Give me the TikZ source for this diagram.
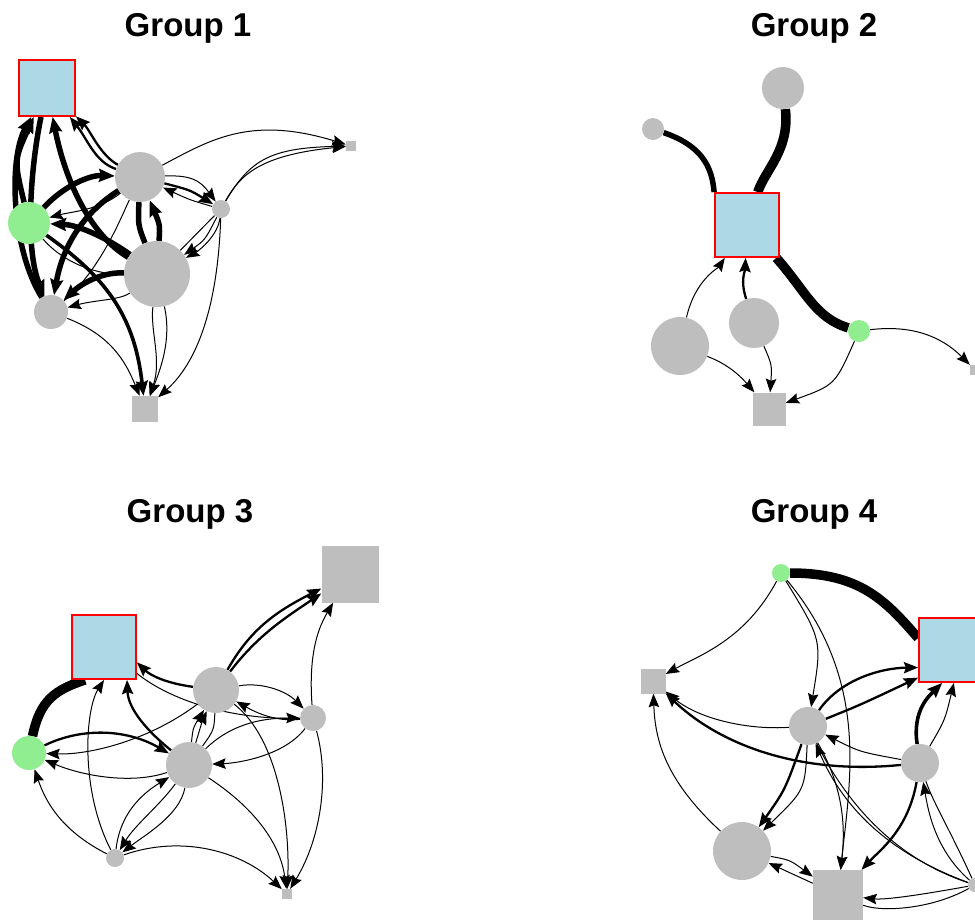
\documentclass[tikz,border=0pt]{standalone}
\usepackage{fontspec}
\setmainfont{Liberation Sans}
\usetikzlibrary{arrows.meta}
\definecolor{vgrey}{HTML}{BEBEBE}
\definecolor{vblue}{HTML}{ADD8E6}
\definecolor{vgreen}{HTML}{90EE90}
\pgfdeclarelayer{edges}
\pgfsetlayers{edges,main}
\tikzset{
  gc/.style={circle,fill=vgrey,inner sep=0pt,minimum size=#1},
  gn/.style={circle,fill=vgreen,inner sep=0pt,minimum size=#1},
  gs/.style={rectangle,fill=vgrey,inner sep=0pt,minimum size=#1},
  bs/.style={rectangle,fill=vblue,draw=red,line width=1.8pt,inner sep=0pt,minimum size=#1},
  ttl/.style={font=\bfseries\fontsize{33}{36}\selectfont,anchor=base,inner sep=0pt},
  w1/.style={draw=black,line width=1pt},
  w2/.style={draw=black,line width=2.3pt},
  w3/.style={draw=black,line width=3.6pt},
  w4/.style={draw=black,line width=5.5pt},
  w5/.style={draw=black,line width=9.5pt},
  ar/.style={-{Stealth[length=13pt 0.5,width=10pt 0.5,inset=2pt]}},
}
\begin{document}
\begin{tikzpicture}[x=1pt,y=-1pt]
\useasboundingbox (0,0) rectangle (975,919);
% titles
\node[ttl] (t1) at (188,36) {Group 1};
\node[ttl] (t2) at (814,36) {Group 2};
\node[ttl] (t3) at (190,522) {Group 3};
\node[ttl] (t4) at (814,522) {Group 4};
% ---------------- panel 1 nodes
\node[bs=56pt] (A1) at (47,88) {};
\node[gn=42pt] (G1) at (29,223) {};
\node[gc=50pt] (B1) at (140,177) {};
\node[gc=66pt] (C1) at (157,274) {};
\node[gc=34pt] (D1) at (51,312) {};
\node[gc=18pt] (E1) at (221,209) {};
\node[gs=10pt] (F1) at (351,146) {};
\node[gs=26pt] (H1) at (145,409) {};
% ---------------- panel 2 nodes
\node[bs=64pt] (A2) at (747,225) {};
\node[gc=42pt] (T2) at (783,88) {};
\node[gc=22pt] (L2) at (653,129) {};
\node[gc=58pt] (O2) at (680,346) {};
\node[gc=50pt] (M2) at (754,323) {};
\node[gn=22pt] (G2) at (859,331) {};
\node[gs=33pt] (W2) at (769,409) {};
\node[gs=10pt] (V2) at (975,370) {};
% ---------------- panel 3 nodes
\node[bs=64pt] (A3) at (104,647) {};
\node[gs=57pt] (K3) at (350,574) {};
\node[gc=46pt] (P3) at (216,690) {};
\node[gc=46pt] (Q3) at (189,765) {};
\node[gc=26pt] (R3) at (313,718) {};
\node[gn=34pt] (G3) at (29,753) {};
\node[gc=18pt] (S3) at (115,858) {};
\node[gs=10pt] (T3) at (287,894) {};
% ---------------- panel 4 nodes
\node[gn=18pt] (G4) at (781,573) {};
\node[bs=64pt] (A4) at (951,650) {};
\node[gs=25pt] (L4) at (653,681) {};
\node[gc=38pt] (M4) at (808,726) {};
\node[gc=38pt] (N4) at (920,763) {};
\node[gc=58pt] (O4) at (742,851) {};
\node[gs=50pt] (W4) at (838,895) {};
\node[gc=14pt] (V4) at (975,885) {};

\begin{pgfonlayer}{edges}
% ---------------- panel 1 edges
\draw[w4,ar] (G1) .. controls (14,160) .. (A1);
\draw[w4,ar] (D1) .. controls (12,250) and (8,160) .. (A1);
\draw[w4,ar] (A1) .. controls (30,170) and (25,250) .. (D1);
\draw[w4,ar] (C1) .. controls (90,235) and (65,180) .. (A1);
\draw[w2,ar] (B1) .. controls (95,162) and (88,140) .. (A1);
\draw[w2,ar] (B1) .. controls (100,155) and (90,130) .. (A1);
\draw[w4,ar] (G1) .. controls (65,185) and (90,175) .. (B1);
\draw[w1,ar] (B1) .. controls (100,210) and (70,212) .. (G1);
\draw[w4,ar] (C1) .. controls (110,240) and (80,225) .. (G1);
\draw[w4,ar] (B1) .. controls (80,215) and (62,250) .. (D1);
\draw[w4,ar] (C1) .. controls (100,272) and (80,285) .. (D1);
\draw[w1,ar] (C1) .. controls (120,300) and (95,300) .. (D1);
\draw[w4,ar] (C1) .. controls (160,225) .. (B1);
\draw[w4] (B1) .. controls (138,225) .. (C1);
\draw[w2,ar] (B1) .. controls (190,190) .. (E1);
\draw[w1,ar] (E1) .. controls (190,200) .. (B1);
\draw[w1,ar] (B1) .. controls (190,175) and (200,180) .. (E1);
\draw[w1,ar] (B1) .. controls (210,140) and (250,115) .. (F1);
\draw[w1,ar] (E1) .. controls (250,160) and (270,148) .. (F1);
\draw[w1,ar] (E1) .. controls (240,175) and (260,155) .. (F1);
\draw[w1,ar] (E1) .. controls (205,240) .. (C1);
\draw[w1,ar] (E1) .. controls (218,235) and (200,250) .. (C1);
\draw[w1] (C1) -- (E1);
\draw[w1,ar] (E1) .. controls (218,300) and (200,360) .. (H1);
\draw[w1,ar] (C1) .. controls (172,340) and (160,370) .. (H1);
\draw[w1,ar] (C1) .. controls (150,330) and (162,360) .. (H1);
\draw[w1,ar] (D1) .. controls (110,335) and (125,360) .. (H1);
\draw[w3,ar] (G1) .. controls (110,280) and (135,320) .. (H1);
\draw[w1] (G1) .. controls (70,270) and (110,275) .. (C1);
\draw[w1] (D1) .. controls (100,270) and (120,220) .. (B1);
% ---------------- panel 2 edges
\draw[w4] (L2) .. controls (700,145) and (712,165) .. (A2.north west);
\draw[w5] (T2) .. controls (790,150) and (765,170) .. (A2);
\draw[w5] (A2) .. controls (805,290) and (815,318) .. (G2);
\draw[w1,ar] (O2) .. controls (695,280) and (718,268) .. (A2);
\draw[w2,ar] (M2) .. controls (740,280) and (745,272) .. (A2);
\draw[w1,ar] (O2) .. controls (730,365) and (742,378) .. (W2);
\draw[w1,ar] (M2) .. controls (772,365) .. (W2);
\draw[w1,ar] (G2) .. controls (835,385) .. (W2);
\draw[w1,ar] (G2) .. controls (910,325) and (940,335) .. (V2);
% ---------------- panel 3 edges
\draw[w5] (G3) .. controls (40,700) and (55,690) .. (A3.240);
\draw[w2,ar] (P3) .. controls (165,683) and (150,675) .. (A3.-25);
\draw[w2,ar] (Q3) .. controls (140,725) and (128,705) .. (A3.-55);
\draw[w1,ar] (S3) .. controls (80,790) and (85,710) .. (A3.south);
\draw[w1] (A3) .. controls (170,700) and (230,720) .. (R3);
\draw[w2,ar] (G3) .. controls (80,728) and (125,728) .. (Q3);
\draw[w1,ar] (P3) .. controls (150,740) and (90,755) .. (G3);
\draw[w1,ar] (Q3) .. controls (130,785) and (80,775) .. (G3);
\draw[w1,ar] (S3) .. controls (60,830) and (45,800) .. (G3);
\draw[w1,ar] (Q3) .. controls (193,728) .. (P3);
\draw[w1,ar] (Q3) .. controls (202,722) .. (P3);
\draw[w1] (P3) .. controls (214,730) .. (Q3);
\draw[w2,ar] (P3) .. controls (250,630) and (275,612) .. (K3);
\draw[w2,ar] (P3) .. controls (258,635) and (285,618) .. (K3);
\draw[w1,ar] (R3) .. controls (308,650) and (320,625) .. (K3);
\draw[w1,ar] (P3) .. controls (260,682) and (285,690) .. (R3);
\draw[w1,ar] (R3) .. controls (275,722) and (255,712) .. (P3);
\draw[w1,ar] (Q3) .. controls (230,725) and (260,718) .. (R3);
\draw[w1,ar] (R3) .. controls (285,755) and (240,763) .. (Q3);
\draw[w1,ar] (Q3) .. controls (160,805) and (135,825) .. (S3);
\draw[w1,ar] (Q3) .. controls (180,815) and (145,835) .. (S3);
\draw[w1,ar] (S3) .. controls (120,815) and (140,795) .. (Q3);
\draw[w1,ar] (S3) .. controls (180,835) and (240,850) .. (T3);
\draw[w1,ar] (Q3) .. controls (250,805) and (280,840) .. (T3);
\draw[w1,ar] (P3) .. controls (280,740) and (290,830) .. (T3);
\draw[w1,ar] (R3) .. controls (330,780) and (320,840) .. (T3);
% ---------------- panel 4 edges
\draw[w5] (G4) .. controls (860,573) and (885,600) .. (A4.160);
\draw[w1,ar] (G4) .. controls (745,640) and (700,655) .. (L4);
\draw[w1,ar] (G4) .. controls (822,640) .. (M4);
\draw[w1,ar] (G4) .. controls (870,680) and (850,780) .. (W4);
\draw[w2,ar] (M4) .. controls (840,680) and (880,668) .. (A4.-152);
\draw[w2,ar] (M4) .. controls (860,705) .. (A4.-140);
\draw[w3,ar] (N4) .. controls (912,710) and (930,695) .. (A4.-105);
\draw[w1,ar] (N4) .. controls (945,720) .. (A4.-85);
\draw[w1,ar] (M4) .. controls (750,730) and (700,720) .. (L4);
\draw[w2,ar] (N4) .. controls (800,775) and (720,745) .. (L4);
\draw[w1,ar] (O4) .. controls (665,780) and (655,740) .. (L4);
\draw[w1,ar] (N4) .. controls (860,752) .. (M4);
\draw[w2,ar] (M4) .. controls (785,790) .. (O4);
\draw[w1,ar] (M4) .. controls (805,790) .. (O4);
\draw[w1,ar] (M4) .. controls (845,790) and (845,830) .. (W4);
\draw[w1,ar] (V4) .. controls (880,850) and (840,800) .. (M4);
\draw[w1] (V4) .. controls (900,860) and (850,810) .. (M4);
\draw[w2,ar] (N4) .. controls (908,830) and (880,850) .. (W4);
\draw[w1,ar] (V4) .. controls (935,850) and (928,810) .. (N4);
\draw[w1] (V4) .. controls (950,830) and (932,800) .. (N4);
\draw[w1,ar] (V4) .. controls (920,895) and (885,900) .. (W4);
\draw[w1] (V4) .. controls (930,910) and (880,912) .. (W4);
\draw[w1,ar] (O4) .. controls (790,860) .. (W4);
\draw[w1,ar] (W4) .. controls (795,875) .. (O4);
\end{pgfonlayer}
\end{tikzpicture}
\end{document}
